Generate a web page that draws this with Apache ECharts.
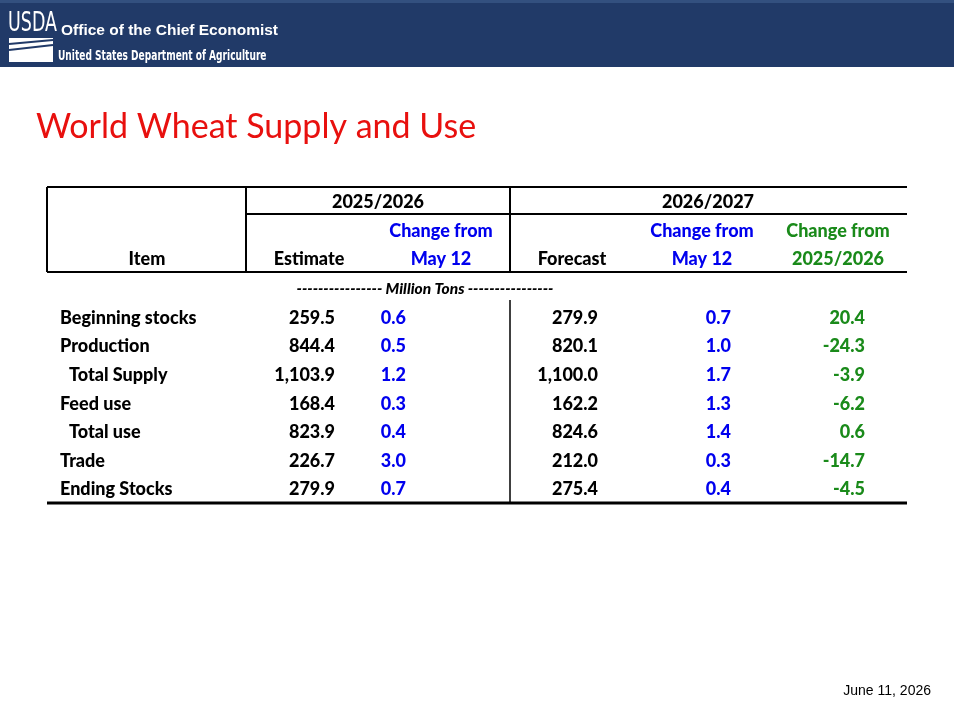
<!DOCTYPE html>
<html>
<head>
<meta charset="utf-8">
<script src="https://cdn.jsdelivr.net/npm/echarts@6/dist/echarts.min.js"></script>
<style>html,body{margin:0;padding:0;background:#fff}#main{width:954px;height:712px}</style>
</head>
<body>
<div id="main"></div>
<script>
// table data
var items = ['Beginning stocks', 'Production', ' Total Supply', 'Feed use', ' Total use', 'Trade', 'Ending Stocks'];
var estimate2526 = ['259.5', '844.4', '1,103.9', '168.4', '823.9', '226.7', '279.9'];
var changeMay2526 = ['0.6', '0.5', '1.2', '0.3', '0.4', '3.0', '0.7'];
var forecast2627 = ['279.9', '820.1', '1,100.0', '162.2', '824.6', '212.0', '275.4'];
var changeMay2627 = ['0.7', '1.0', '1.7', '1.3', '1.4', '0.3', '0.4'];
var changeYear = ['20.4', '-24.3', '-3.9', '-6.2', '0.6', '-14.7', '-4.5'];

var FONT = 'Lato, "Open Sans", sans-serif';
var BLUE = '#0000ee', GREEN = '#1a8a1a', NAVY = '#213a68';

var els = [];
function txt(x, y, s, color, align, size, extra) {
  var st = {x: x, y: y, text: s, fill: color || '#000', align: align || 'left', verticalAlign: 'middle',
    font: (extra || '900') + ' ' + (size || 18) + 'px ' + FONT};
  els.push({type: 'text', style: st});
}
function line(x1, y1, x2, y2, w) {
  els.push({type: 'line', shape: {x1: x1, y1: y1, x2: x2, y2: y2}, style: {stroke: '#000', lineWidth: w || 2}});
}

// header bar
els.push({type: 'rect', shape: {x: 0, y: 0, width: 954, height: 67}, style: {fill: NAVY}});
els.push({type: 'rect', shape: {x: 0, y: 0, width: 954, height: 3}, style: {fill: '#33507f'}});
els.push({type: 'text', x: 8, y: 24, scaleX: 0.72, style: {x: 0, y: 0, text: 'USDA', fill: '#fff', verticalAlign: 'middle',
  font: '27px "DejaVu Sans Condensed", sans-serif'}});
els.push({type: 'rect', shape: {x: 9, y: 38, width: 44, height: 24}, style: {fill: '#fff'}});
els.push({type: 'line', shape: {x1: 9, y1: 44, x2: 53, y2: 40}, style: {stroke: NAVY, lineWidth: 2}});
els.push({type: 'line', shape: {x1: 9, y1: 50, x2: 53, y2: 45}, style: {stroke: NAVY, lineWidth: 2}});
els.push({type: 'text', style: {x: 61, y: 31, text: 'Office of the Chief Economist', fill: '#fff', verticalAlign: 'middle',
  font: 'bold 15.5px "Liberation Sans", Arial, sans-serif'}});
els.push({type: 'text', x: 58, y: 56, scaleX: 0.72, style: {x: 0, y: 0, text: 'United States Department of Agriculture', fill: '#fff', verticalAlign: 'middle',
  font: 'bold 14px "DejaVu Sans Condensed", sans-serif'}});

// title
els.push({type: 'text', style: {x: 36, y: 127, text: 'World Wheat Supply and Use', fill: '#e8100e', verticalAlign: 'middle',
  font: '34px ' + FONT}});

// table lines
line(47, 187, 907, 187, 2);
line(47, 187, 47, 272, 2);
line(246, 187, 246, 272, 2);
line(510, 187, 510, 272, 2);
line(246, 214, 907, 214, 2);
line(47, 272, 907, 272, 2);
line(510, 300, 510, 502, 1.5);
line(47, 503, 907, 503, 3);

// headers
txt(378, 202, '2025/2026', '#000', 'center');
txt(708, 202, '2026/2027', '#000', 'center');
txt(441, 231, 'Change from', BLUE, 'center');
txt(702, 231, 'Change from', BLUE, 'center');
txt(838, 231, 'Change from', GREEN, 'center');
txt(147, 259, 'Item', '#000', 'center');
txt(309, 259, 'Estimate', '#000', 'center');
txt(441, 259, 'May 12', BLUE, 'center');
txt(572, 259, 'Forecast', '#000', 'center');
txt(702, 259, 'May 12', BLUE, 'center');
txt(838, 259, '2025/2026', GREEN, 'center');
txt(425, 289, '---------------- Million Tons ----------------', '#000', 'center', 15.5, 'italic 900');

// rows
var rowY0 = 318, rowH = 28.6;
items.forEach(function (name, i) {
  var y = rowY0 + i * rowH;
  var indent = name.charAt(0) === ' ';
  txt(indent ? 69 : 60, y, name.trim(), '#000', 'left');
  txt(335, y, estimate2526[i], '#000', 'right');
  txt(406, y, changeMay2526[i], BLUE, 'right');
  txt(598, y, forecast2627[i], '#000', 'right');
  txt(731, y, changeMay2627[i], BLUE, 'right');
  txt(865, y, changeYear[i], GREEN, 'right');
});

// date
els.push({type: 'text', style: {x: 931, y: 691, text: 'June 11, 2026', fill: '#000', align: 'right', verticalAlign: 'middle',
  font: '14px "Liberation Sans", Arial, sans-serif'}});

var chart = echarts.init(document.getElementById('main'));
chart.setOption({backgroundColor: '#fff', animation: false, graphic: {elements: els}});
</script>
</body>
</html>
